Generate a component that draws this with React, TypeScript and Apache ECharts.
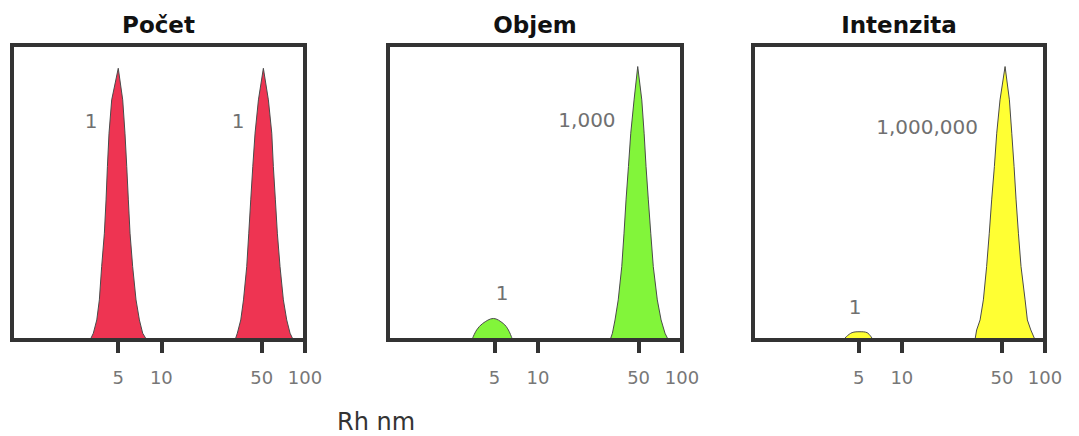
import React, { useEffect, useRef } from "react";
import * as echarts from "echarts";

// ---- data (radius in nm, relative amount in % of plot height) ----
const tickValues = [5, 10, 50, 100];
const panelTitles = ["Počet", "Objem", "Intenzita"];
const axisTitle = "Rh nm";

const countPeakSmall: [number, number][] = [
  [3.19, 0], [3.36, 2.3], [3.55, 6.8], [3.7, 13.6], [3.84, 24.9], [4.01, 36.2],
  [4.12, 47.5], [4.21, 58.8], [4.32, 70.1], [4.51, 81.4], [5.01, 92.1],
  [5.38, 81.4], [5.58, 70.1], [5.74, 58.8], [5.89, 47.5], [6.05, 36.2],
  [6.31, 24.9], [6.66, 13.6], [7.03, 6.8], [7.41, 2.3], [7.91, 0],
];
const countPeakLarge: [number, number][] = [
  [32.6, 0], [33.8, 2.3], [35.7, 6.8], [37.3, 13.6], [39.3, 24.9], [40.6, 36.2],
  [41.9, 47.5], [43.3, 58.8], [44.9, 70.1], [47.4, 81.4], [51.3, 92.1],
  [55.6, 81.4], [58.7, 70.1], [60.2, 58.8], [62.2, 47.5], [64.2, 36.2],
  [67.0, 24.9], [70.7, 13.6], [74.6, 6.8], [78.7, 2.3], [82.9, 0],
];
const volumePeakSmall: [number, number][] = [
  [3.48, 0], [3.76, 3.4], [4.14, 5.6], [4.91, 7.3], [5.75, 5.6], [6.24, 3.4], [6.68, 0],
];
const volumePeakLarge: [number, number][] = [
  [31.7, 0], [32.9, 2.3], [34.3, 6.8], [36.1, 13.6], [38.2, 24.9], [39.6, 36.2],
  [40.9, 47.5], [42.5, 58.8], [44.1, 70.1], [46.5, 81.4], [49.3, 92.7],
  [52.6, 81.4], [54.6, 70.1], [56.3, 58.8], [58.4, 47.5], [60.7, 36.2],
  [63.2, 24.9], [67.4, 13.6], [71.6, 6.8], [76.2, 2.3], [80.4, 0],
];
const intensityPeakSmall: [number, number][] = [
  [3.88, 0], [4.49, 2.5], [5.1, 2.8], [5.71, 2.5], [6.3, 0],
];
const intensityPeakLarge: [number, number][] = [
  [32.4, 0], [33.3, 3.4], [35.2, 6.8], [37.1, 13.6], [39.1, 24.9], [40.8, 36.2],
  [42.4, 47.5], [44.3, 58.8], [46.0, 70.1], [48.5, 81.4], [52.6, 92.7],
  [56.4, 81.4], [58.6, 70.1], [60.8, 58.8], [62.8, 47.5], [65.2, 36.2],
  [68.0, 24.9], [72.6, 13.6], [75.3, 6.8], [79.6, 3.4], [85.3, 0],
];

// peak annotations: [text, radius nm, height %]
const countLabels: [string, number, number][] = [["1", 3.24, 74.2], ["1", 34.2, 74.2]];
const volumeLabels: [string, number, number][] = [["1", 5.64, 15.9], ["1,000", 21.9, 74.6]];
const intensityLabels: [string, number, number][] = [["1", 4.71, 11.2], ["1,000,000", 15.0, 72.2]];

const fills = ["#ee3452", "#82f53a", "#ffff33"];

const lg = (v: number) => Math.log10(v);
const toData = (arr: [number, number][]) => arr.map(([r, v]) => [lg(r), v]);

export default function App() {
  const ref = useRef<HTMLDivElement>(null);
  useEffect(() => {
    if (!ref.current) return;
    const chart = echarts.init(ref.current, null, { renderer: "svg" });

    const grids = [
      { left: 12, top: 45, width: 293, height: 295 },
      { left: 388, top: 45, width: 294, height: 295 },
      { left: 753, top: 45, width: 292, height: 295 },
    ];
    const peaks = [
      [countPeakSmall, countPeakLarge],
      [volumePeakSmall, volumePeakLarge],
      [intensityPeakSmall, intensityPeakLarge],
    ];
    const labels = [countLabels, volumeLabels, intensityLabels];
    const tickLog = tickValues.map(lg);

    const series: any[] = [];
    peaks.forEach((pair, i) => {
      pair.forEach((pk, j) => {
        series.push({
          type: "line",
          xAxisIndex: i,
          yAxisIndex: i,
          data: toData(pk),
          showSymbol: false,
          symbol: "none",
          smooth: pk.length < 10 ? 0.35 : false,
          lineStyle: { color: "#4a4a4a", width: 1 },
          areaStyle: { color: fills[i], opacity: 1 },
          z: 2,
          markPoint:
            j === 0
              ? {
                  symbol: "circle",
                  symbolSize: 0,
                  silent: true,
                  label: {
                    show: true,
                    position: "inside",
                    formatter: (p: any) => p.name,
                    color: "#707070",
                    fontSize: 20,
                    fontFamily: "DejaVu Sans",
                  },
                  data: labels[i].map(([t, r, v]) => ({ name: t, coord: [lg(r), v] })),
                }
              : undefined,
        });
      });
    });

    chart.setOption({
      animation: false,
      grid: grids.map((g) => ({
        ...g,
        show: true,
        borderColor: "#333",
        borderWidth: 4,
        backgroundColor: "transparent",
      })),
      xAxis: grids.map((_, i) => ({
        gridIndex: i,
        type: "value",
        min: -0.04,
        max: 2,
        z: 5,
        axisLine: { show: true, onZero: false, lineStyle: { color: "#333", width: 4 } },
        axisTick: {
          show: true,
          customValues: tickLog,
          length: 13,
          lineStyle: { color: "#333", width: 4 },
        },
        axisLabel: {
          show: true,
          customValues: tickLog,
          formatter: (v: number) => String(Math.round(Math.pow(10, v))),
          margin: 28,
          color: "#777",
          fontSize: 18,
          fontFamily: "DejaVu Sans",
        },
        splitLine: { show: false },
      })),
      yAxis: grids.map((_, i) => ({
        gridIndex: i,
        type: "value",
        min: 0,
        max: 100,
        show: false,
        splitLine: { show: false },
      })),
      series,
      graphic: [
        ...panelTitles.map((t, i) => ({
          type: "text",
          x: grids[i].left + grids[i].width / 2,
          y: 25,
          style: {
            text: t,
            align: "center",
            verticalAlign: "middle",
            textAlign: "center",
            textVerticalAlign: "middle",
            font: "bold 23px 'DejaVu Sans'",
            fill: "#111",
          },
        })),
        {
          type: "text",
          x: 376,
          y: 422,
          style: {
            text: axisTitle,
            align: "center",
            verticalAlign: "middle",
            textAlign: "center",
            textVerticalAlign: "middle",
            font: "24px 'DejaVu Sans'",
            fill: "#333",
          },
        },
      ],
    });
    return () => chart.dispose();
  }, []);
  return (
    <div
      ref={ref}
      style={{ position: "absolute", left: 0, top: 0, width: 1079, height: 436 }}
    />
  );
}
